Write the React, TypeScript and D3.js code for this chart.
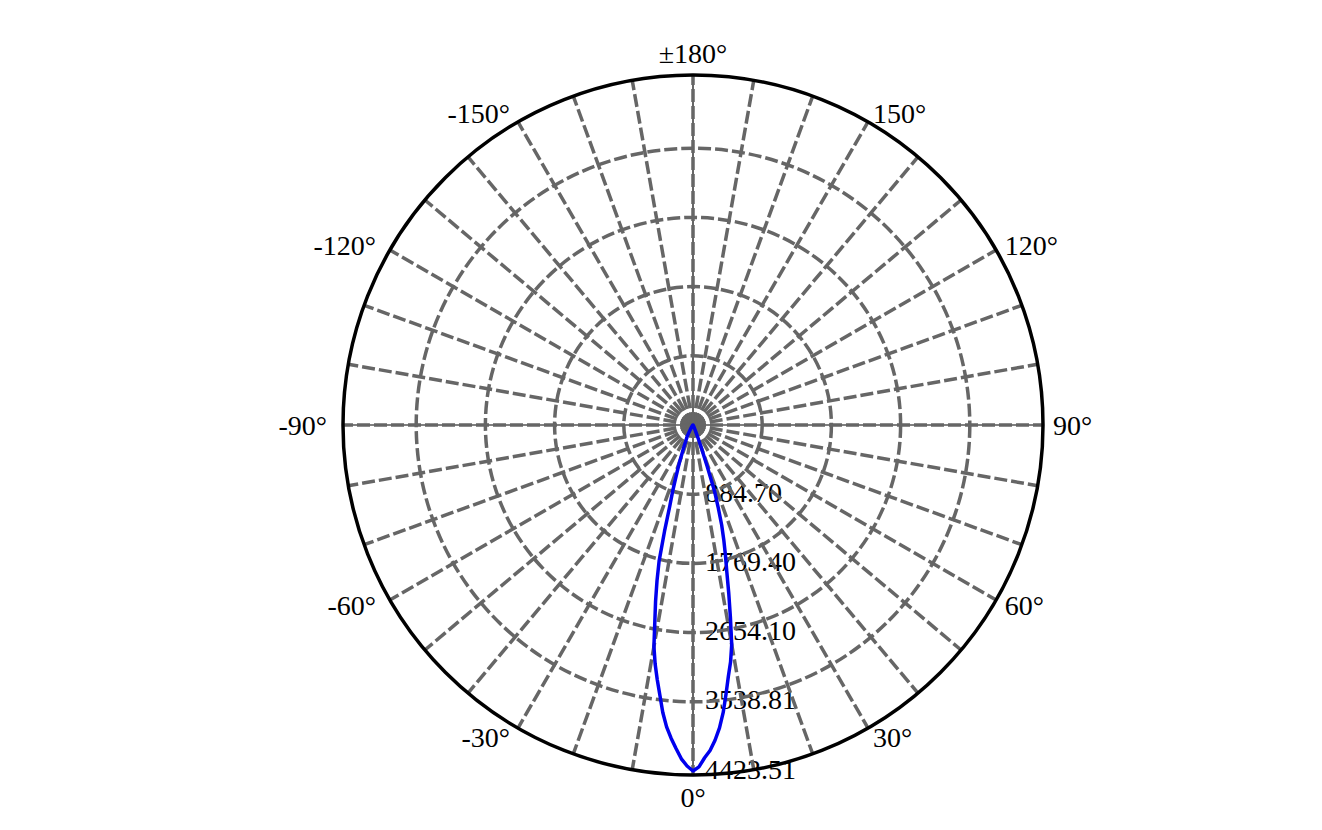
import * as d3 from 'd3';

// ring ticks of the radial axis (cd)
const ringValues = [884.7, 1769.4, 2654.1, 3538.81, 4423.51];
const ringLabels = ['884.70', '1769.40', '2654.10', '3538.81', '4423.51'];

// angle ticks (deg, 0 at the bottom, positive to the right)
const angleTicks = [0, 30, 60, 90, 120, 150, 180, -150, -120, -90, -60, -30];
const angleLabels = ['0°', '30°', '60°', '90°', '120°', '150°', '±180°', '-150°', '-120°', '-90°', '-60°', '-30°'];

// spokes every 10 deg
const spokeAngles = [
  -170, -160, -150, -140, -130, -120, -110, -100, -90, -80, -70, -60, -50, -40, -30, -20, -10,
  0, 10, 20, 30, 40, 50, 60, 70, 80, 90, 100, 110, 120, 130, 140, 150, 160, 170, 180,
];

// luminous intensity curve
const lobeAngles = [
  -90, -60, -45, -40, -35, -32, -30, -29, -28, -27, -26, -25, -24, -23, -22, -21, -20, -19, -18,
  -17, -16, -15, -14, -13, -12, -11, -10, -9, -8, -7, -6, -5, -4, -3, -2, -1, 0, 1, 2, 3, 4, 5,
  6, 7, 8, 9, 10, 11, 12, 13, 14, 15, 16, 17, 18, 19, 20, 21, 22, 23, 24, 25, 26, 27, 28, 29,
  30, 32, 35, 40, 45, 60, 90,
];
const lobeValues = [
  2, 5, 10, 19, 32, 51, 77, 102, 128, 166, 179, 205, 230, 281, 332, 396, 499, 601, 729,
  895, 1074, 1406, 1790, 2046, 2301, 2557, 2877, 3094, 3286, 3478, 3695, 3874, 4014, 4142, 4270, 4360, 4423.51, 4372, 4257, 4168, 4040, 3887,
  3695, 3465, 3247, 3068, 2851, 2506, 2199, 1918, 1713, 1521, 1330, 1100, 895, 550, 320, 192, 115, 77, 51, 38, 31, 26, 22, 19,
  16, 13, 10, 8, 6, 4, 2,
];

const W = 1322;
const H = 830;
const cx = 693;
const cy = 425;
const outerR = 350;
const font = '"Liberation Serif", "Times New Roman", serif';

export default function App() {
  const r = d3.scaleLinear().domain([0, 4423.51]).range([0, 346]);
  // lineRadial angle: 0 = up, clockwise; we want 0 = down, positive to the right
  const a = d3.scaleLinear().domain([-180, 180]).range([2 * Math.PI, 0]);
  const px = (deg: number, rad: number) => cx + rad * Math.sin((deg * Math.PI) / 180);
  const py = (deg: number, rad: number) => cy + rad * Math.cos((deg * Math.PI) / 180);

  const pts = lobeAngles.map((d, i) => ({ ang: d, v: lobeValues[i] }));
  const line = d3
    .lineRadial<{ ang: number; v: number }>()
    .angle((d) => a(d.ang))
    .radius((d) => r(d.v))
    .curve(d3.curveLinearClosed);

  const grid = '#666666';
  const dash = '13,4';

  return (
    <svg width={W} height={H} style={{ position: 'absolute', left: 0, top: 0 }} fontFamily={font}>
      <rect width={W} height={H} fill="#fff" />

      {ringValues.map((v, i) => (
        <text key={'rl' + i} x={cx + 12} y={cy + r(v)} dy="0.27em" fontSize={28} fill="#000">
          {ringLabels[i]}
        </text>
      ))}

      {angleTicks.map((t, i) => {
        const s = Math.sin((t * Math.PI) / 180);
        const mid = Math.abs(s) < 0.01;
        const anchor = mid ? 'middle' : s > 0 ? 'start' : 'end';
        const rx = mid ? 372 : s > 0 ? 360 : 366;
        return (
          <text
            key={'al' + i}
            x={px(t, rx)}
            y={py(t, mid ? 372 : 360)}
            dy="0.35em"
            textAnchor={anchor}
            fontSize={28}
            fill="#000"
          >
            {angleLabels[i]}
          </text>
        );
      })}

      <line x1={cx - outerR} x2={cx + outerR} y1={cy} y2={cy} stroke="#000" strokeWidth={1.2} />
      <line x1={cx} x2={cx} y1={cy - outerR} y2={cy + outerR} stroke="#000" strokeWidth={1.2} />

      {ringValues.slice(0, 4).map((v, i) => (
        <circle
          key={'rc' + i}
          cx={cx}
          cy={cy}
          r={r(v)}
          fill="none"
          stroke={grid}
          strokeWidth={3.5}
          strokeDasharray={dash}
        />
      ))}

      {spokeAngles.map((t) => (
        <line
          key={'sp' + t}
          x1={cx}
          y1={cy}
          x2={px(t, outerR)}
          y2={py(t, outerR)}
          stroke={grid}
          strokeWidth={3.5}
          strokeDasharray={dash}
        />
      ))}

      <circle cx={cx} cy={cy} r={outerR} fill="none" stroke="#000" strokeWidth={3.5} />

      <path
        d={line(pts) ?? ''}
        transform={`translate(${cx},${cy})`}
        fill="none"
        stroke="#0000ee"
        strokeWidth={3.5}
        strokeLinejoin="round"
      />
    </svg>
  );
}
